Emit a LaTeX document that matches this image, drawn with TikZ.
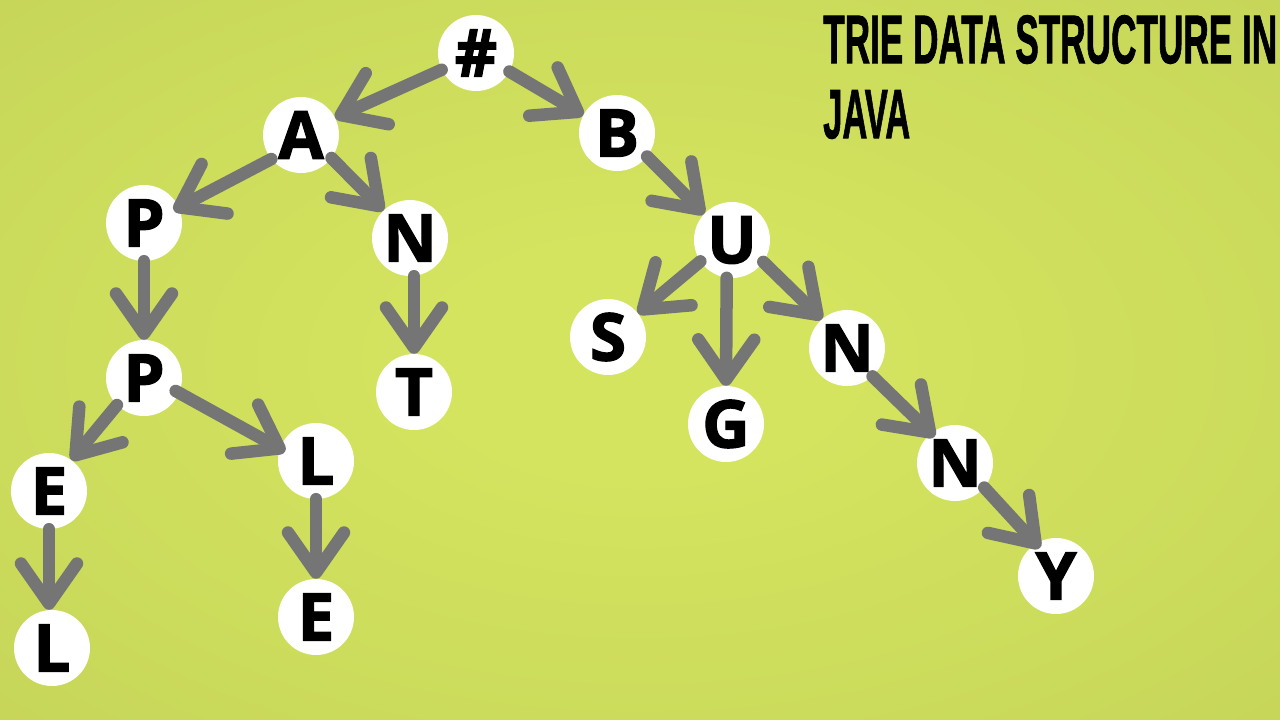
\documentclass[tikz,border=0pt]{standalone}
\usepackage{fontspec}
\usepackage{graphicx}
\usetikzlibrary{arrows.meta}
\setmainfont{Open Sans}
\newfontfamily\nodefont{Open Sans}[BoldFeatures={FakeBold=1.8}]
\newfontfamily\titlefont{Liberation Sans}[BoldFeatures={FakeBold=1.5}]
\definecolor{bgin}{HTML}{D4E45F}
\definecolor{bgout}{HTML}{B9C853}
\definecolor{arrowgray}{HTML}{757575}
\pgfdeclareradialshading{bgshade}{\pgfpoint{0bp}{0bp}}{color(0bp)=(bgin); color(8bp)=(bgin); color(62bp)=(bgout); color(80bp)=(bgout)}
\tikzset{
  letter/.style={circle, fill=white, minimum size=76pt, inner sep=0pt,
    font=\nodefont\bfseries\fontsize{66}{66}\selectfont, text=black},
  trieedge/.style={draw=arrowgray, line width=12.5pt, line cap=round,
    -{Straight Barb[length=40pt,width=56pt,round]}},
  titletext/.style={anchor=north west, inner sep=0pt, text=black}
}
\begin{document}
\begin{tikzpicture}[x=1pt,y=-1pt]
\useasboundingbox (0,0) rectangle (1280,720);
\shade[shading=bgshade] (0,0) rectangle (1280,720);
% title
\node[titletext] (t1) at (823,15) {\resizebox{454pt}{48pt}{\titlefont\bfseries TRIE DATA STRUCTURE IN}};
\node[titletext] (t2) at (823,90) {\resizebox{87pt}{48pt}{\titlefont\bfseries JAVA}};
% nodes
\node[letter] (h)  at (476,53)  {\#};
\node[letter] (a)  at (301,135) {A};
\node[letter] (b)  at (617,133) {B};
\node[letter] (p1) at (144,223) {P};
\node[letter] (n1) at (410,238) {N};
\node[letter] (u)  at (732,240) {U};
\node[letter] (p2) at (144,378) {P};
\node[letter] (t)  at (414,392) {T};
\node[letter] (s)  at (608,337) {S};
\node[letter] (g)  at (726,424) {G};
\node[letter] (n2) at (847,348) {N};
\node[letter] (e1) at (49,491)  {E};
\node[letter] (l1) at (316,461) {L};
\node[letter] (n3) at (955,463) {N};
\node[letter] (e2) at (316,617) {E};
\node[letter] (l2) at (52,648)  {L};
\node[letter] (y)  at (1056,576) {Y};
% edges
\draw[trieedge] (h.206) -- (a.27);
\draw[trieedge] (h.331) -- (b.152);
\draw[trieedge, shorten >=-6pt] (a.219) -- (p1.24);
\draw[trieedge] (a.323) -- (n1.134);
\draw[trieedge] (b.322) -- (u.137);
\draw[trieedge] (u.214) -- (s.38);
\draw[trieedge] (u.262) -- (g.90);
\draw[trieedge] (u.325) -- (n2.131);
\draw[trieedge, shorten >=-5pt] (n2.312) -- (n3.129);
\draw[trieedge, shorten >=-6pt] (n3.320) -- (y.122);
\draw[trieedge] (p1.south) -- (p2.north);
\draw[trieedge] (n1.south -| t.north) -- (t.north);
\draw[trieedge] (p2.225) -- (e1.54);
\draw[trieedge, shorten <=-4pt, shorten >=-6pt] (p2.337) -- (l1.161);
\draw[trieedge] (e1.south) -- (e1.south |- l2.north);
\draw[trieedge] (l1.south) -- (e2.north);
\end{tikzpicture}
\end{document}
